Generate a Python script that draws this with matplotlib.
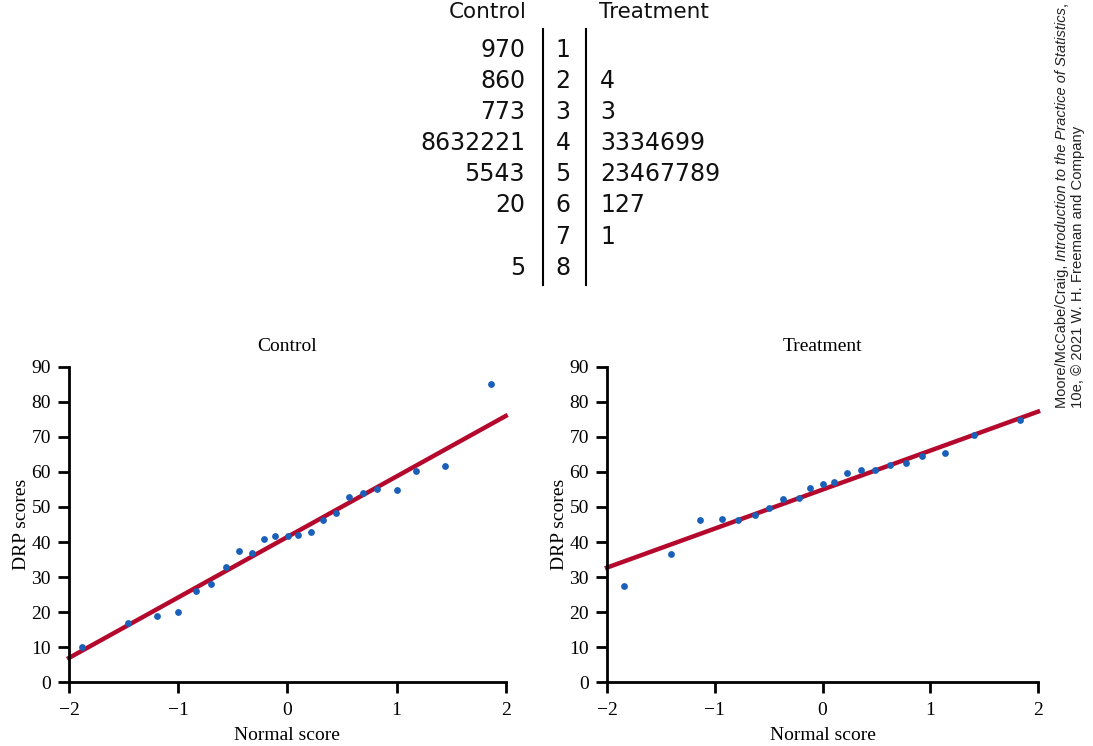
import numpy as np
import matplotlib
matplotlib.use("Agg")
import matplotlib.pyplot as plt

# Stemplot (text)
stems = ["1", "2", "3", "4", "5", "6", "7", "8"]
control_leaves = ["970", "860", "773", "8632221", "5543", "20", "", "5"]
treatment_leaves = ["", "4", "3", "3334699", "23467789", "127", "1", ""]

# Normal quantile plots
control_x = [-1.878, -1.456, -1.197, -1.0, -0.84, -0.696, -0.565, -0.446, -0.324, -0.217,
             -0.110, 0.006, 0.10, 0.22, 0.324, 0.446, 0.565, 0.696, 0.818, 1.0, 1.18, 1.447, 1.866]
control_y = [10.0, 16.9, 18.9, 20.0, 26.0, 28.0, 32.9, 37.4, 37.0, 40.9,
             41.8, 41.8, 42.1, 42.9, 46.2, 48.2, 52.9, 54.0, 55.1, 54.9, 60.2, 61.7, 85.1]
control_fit = (41.45, 17.25)   # intercept, slope

treat_x = [-1.842, -1.406, -1.137, -0.933, -0.781, -0.630, -0.497, -0.363, -0.221, -0.116,
           0.008, 0.110, 0.227, 0.357, 0.490, 0.626, 0.772, 0.923, 1.137, 1.404, 1.837]
treat_y = [27.6, 36.7, 46.2, 46.6, 46.4, 47.7, 49.7, 52.3, 52.5, 55.4,
           56.5, 57.0, 59.6, 60.5, 60.6, 61.9, 62.6, 64.5, 65.4, 70.6, 74.7]
treat_fit = (54.95, 11.12)

dot_color = "#1a5fb8"
line_color = "#b4092c"
W, H = 1093, 746

fig = plt.figure(figsize=(W / 100, H / 100), dpi=100)


def fx(px):
    return px / W


def fy(py):
    return 1 - py / H


# --- stemplot ---
hand = dict(family="DejaVu Sans", fontsize=17, color="#111111")
fig.text(fx(527), fy(12), "Control", ha="right", va="center",
         family="DejaVu Sans", fontsize=15.5, color="#111111")
fig.text(fx(599), fy(12), "Treatment", ha="left", va="center",
         family="DejaVu Sans", fontsize=15.5, color="#111111")
row_y = 50
for i, s in enumerate(stems):
    yy = fy(row_y + i * 31.1)
    fig.text(fx(525), yy, control_leaves[i], ha="right", va="center", **hand)
    fig.text(fx(563), yy, s, ha="center", va="center", **hand)
    fig.text(fx(600), yy, treatment_leaves[i], ha="left", va="center", **hand)
for xline in (542.7, 586):
    fig.add_artist(plt.Line2D([fx(xline), fx(xline)], [fy(29), fy(285)],
                              transform=fig.transFigure, color="black", lw=1.5))


# --- normal quantile plots ---
def qplot(ax, xs, ys, fit, title):
    xl = np.array([-2, 2])
    ax.plot(xl, fit[0] + fit[1] * xl, color=line_color, lw=3.2, zorder=2, clip_on=False)
    ax.scatter(xs, ys, s=24, color=dot_color, zorder=3, clip_on=False, linewidths=0)
    ax.set_xlim(-2, 2)
    ax.set_ylim(0, 90)
    ax.set_xticks([-2, -1, 0, 1, 2])
    ax.set_yticks(np.arange(0, 91, 10))
    for sp in ("top", "right"):
        ax.spines[sp].set_visible(False)
    for sp in ("left", "bottom"):
        ax.spines[sp].set_linewidth(2)
    ax.tick_params(direction="out", length=8, width=2, labelsize=14)
    ax.tick_params(axis="x", pad=6)
    ax.tick_params(axis="y", pad=5)
    for lab in ax.get_xticklabels() + ax.get_yticklabels():
        lab.set_family("Liberation Serif")
    ax.set_title(title, family="Liberation Serif", fontsize=14, pad=11)
    ax.set_xlabel("Normal score", family="Liberation Serif", fontsize=14, labelpad=6)
    ax.set_ylabel("DRP scores", family="Liberation Serif", fontsize=14, labelpad=1)


ax_h = (682.3 - 366.7) / H
ax1 = fig.add_axes([fx(69), fy(682.3), fx(436.7), ax_h])
qplot(ax1, control_x, control_y, control_fit, "Control")
ax2 = fig.add_axes([fx(607), fy(682.3), fx(431), ax_h])
qplot(ax2, treat_x, treat_y, treat_fit, "Treatment")

# --- credit line (rotated, built from pieces so part can be italic) ---
renderer = fig.canvas.get_renderer()


def rotated_line(x_px, pieces, size, target_len):
    # draw once, measure, then rescale so the line has the target length
    arts = []
    y = 408
    for txt, style in pieces:
        t = fig.text(fx(x_px), fy(y), txt, rotation=90, ha="center", va="bottom",
                     fontsize=size, fontstyle=style, family="Liberation Sans",
                     color="#222222")
        ext = t.get_window_extent(renderer)
        y -= ext.height
        arts.append(t)
    total = 408 - y
    scale = target_len / total
    y = 408
    for t in arts:
        t.set_fontsize(size * scale)
        t.set_position((fx(x_px), fy(y)))
        y -= t.get_window_extent(renderer).height


rotated_line(1062, [("Moore/McCabe/Craig, ", "normal"),
                    ("Introduction to the Practice of Statistics", "italic"),
                    (",", "normal")], 10, 404)
rotated_line(1078, [("10e, \u00a9 2021 W. H. Freeman and Company", "normal")], 10, 283)

fig.savefig("out.png", dpi=100)
